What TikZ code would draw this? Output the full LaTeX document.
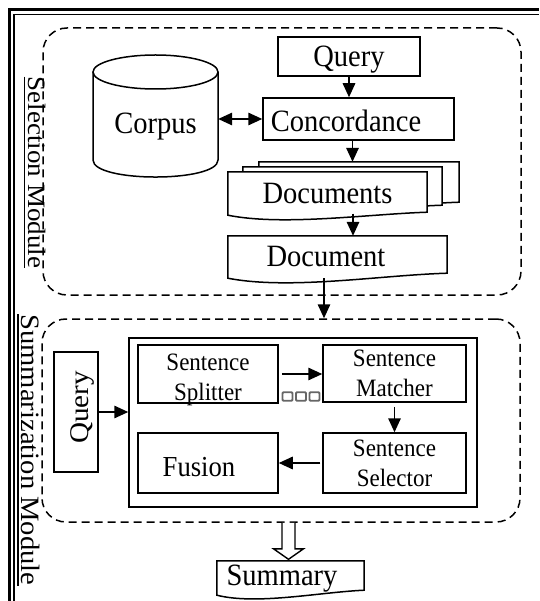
\documentclass[tikz,border=0pt]{standalone}
\usepackage{fontspec}
\setmainfont{Liberation Serif}[FakeStretch=0.92]
\newfontfamily\rotfont{Liberation Serif}[FakeStretch=1.08]
\usetikzlibrary{arrows.meta,calc,backgrounds}
\newcommand\lowtxt[2]{\raisebox{-#1}[\height][\depth]{#2}}
\begin{document}
\begin{tikzpicture}[x=1pt,y=-1pt,
  box/.style={draw, line width=1.5pt, inner sep=0pt, fill=white},
  inv/.style={inner sep=0pt},
  modbox/.style={draw, line width=1.5pt, dash pattern=on 8pt off 5pt, rounded corners=24pt, inner sep=0pt},
  arr/.style={line width=1.5pt, -{Triangle[length=14pt,width=12.5pt]}},
  darr/.style={line width=1.5pt, {Triangle[length=14pt,width=12.5pt]}-{Triangle[length=14pt,width=12.5pt]}},
  docline/.style={draw, line width=1.5pt, fill=white},
  big/.style={font=\fontsize{31}{33}\selectfont},
  mid/.style={font=\fontsize{25}{30}\selectfont, align=center},
  fus/.style={font=\fontsize{29}{31}\selectfont},
  lab/.style={font=\rotfont\fontsize{25}{28}\selectfont, rotate=-90, inner sep=0pt},
  uline/.style={line width=1.1pt},
  sq/.style={draw=black!60, line width=1.8pt, rounded corners=1pt, minimum width=10pt, minimum height=8.5pt, inner sep=0pt}
]
\useasboundingbox (0,0) rectangle (539,601);

% double frame
\draw[line width=3pt] (9,601) -- (9,10) -- (539,10);
\draw[line width=1.5pt] (14,601) -- (14,14.5) -- (539,14.5);

% module boxes
\node[modbox, minimum width=478pt, minimum height=267pt] (sel) at (282,161.5) {};
\node[modbox, minimum width=478pt, minimum height=203pt] (summ) at (281,420.5) {};

\node[lab] (sellab) at (37,172.5) {Selection Module};
\draw[uline] ([xshift=-3.5pt]sellab.south west) -- ([xshift=-3.5pt]sellab.south east);
\node[lab, font=\rotfont\fontsize{26.5}{28}\selectfont] (summlab) at (31,450) {Summarization Module};
\draw[uline] ([xshift=-3.5pt]summlab.south west) -- ([xshift=-3.5pt]summlab.south east);

% corpus cylinder
\draw[line width=1.5pt] (93,72) -- (93,160) .. controls (93,182.7) and (218,182.7) .. (218,160) -- (218,72);
\draw[line width=1.5pt] (155.5,72) ellipse [x radius=62.5pt, y radius=17pt];
\node[inv, big, minimum width=125pt, minimum height=80pt] (corpus) at (155.5,119) {\lowtxt{8pt}{Corpus}};

% top chain
\node[box, big, minimum width=142pt, minimum height=39pt] (query) at (349,56.5) {\lowtxt{3pt}{Query}};
\node[box, big, minimum width=191pt, minimum height=42pt] (conc) at (358.5,119) {\hspace*{-25pt}\lowtxt{2pt}{Concordance}};

\node[inv, minimum width=200pt, minimum height=40pt] (docs3) at (359,182) {};
\node[inv, minimum width=199pt, minimum height=38pt] (docs2) at (342.5,186) {};
\node[inv, big, minimum width=199pt, minimum height=40pt] (docs) at (327.5,192) {\lowtxt{2pt}{Documents}};
\node[inv, big, minimum width=219pt, minimum height=37pt] (doc) at (337.5,254.5) {\hspace*{-23pt}\lowtxt{2pt}{Document}};

\begin{scope}[on background layer]
\draw[docline] ([yshift=-3pt]docs3.south west) -- (docs3.north west) -- (docs3.north east) -- (docs3.south east)
  .. controls +(-60,2) and +(55,11) .. ([yshift=-3pt]docs3.south west) -- cycle;
\draw[docline] ([yshift=-3pt]docs2.south west) -- (docs2.north west) -- (docs2.north east) -- (docs2.south east)
  .. controls +(-60,2) and +(55,11) .. ([yshift=-3pt]docs2.south west) -- cycle;
\draw[docline] ([yshift=-3pt]docs.south west) -- (docs.north west) -- (docs.north east) -- (docs.south east)
  .. controls +(-60,2) and +(55,11) .. ([yshift=-3pt]docs.south west) -- cycle;
\draw[docline] ([yshift=-5pt]doc.south west) -- (doc.north west) -- (doc.north east) -- (doc.south east)
  .. controls +(-67,2) and +(62,12) .. ([yshift=-5pt]doc.south west) -- cycle;
\end{scope}

\draw[darr] (corpus) -- (conc);
\draw[arr] (query.south) -- (query.south |- conc.north);
\draw[arr] ([xshift=-6pt]conc.south) -- ([xshift=-6pt]conc.south |- docs3.north);
\coordinate (docsout) at ([xshift=25.5pt,yshift=-1.5pt]docs.south);
\draw[arr] (docsout) -- (docsout |- doc.north);
\coordinate (docout) at ([xshift=-13.5pt,yshift=-5pt]doc.south);
\draw[arr] (docout) -- (docout |- summ.north);

% summarization module
\node[box, minimum width=120pt, minimum height=44pt, rotate=90, font=\rotfont\fontsize{27}{30}\selectfont] (qleft) at (76,412) {\hspace*{9pt}\lowtxt{6pt}{Query}};
\node[box, minimum width=348pt, minimum height=169pt] (inner) at (303,422.5) {};
\node[box, minimum width=140pt, minimum height=58pt, label={[mid, yshift=-6pt]center:Sentence\\Splitter}] (split) at (208,374) {};
\node[box, mid, minimum width=143pt, minimum height=57pt] (match) at (394.5,373.5) {Sentence\\Matcher};
\node[box, mid, minimum width=143pt, minimum height=60pt] (select) at (394.5,463) {Sentence\\Selector};
\node[box, fus, minimum width=140pt, minimum height=60pt] (fusion) at (208,463) {\hspace*{-18pt}\lowtxt{4pt}{Fusion}};

\node[sq] (sq1) at (287.5,396.5) {};
\node[sq] (sq2) at (301,396.5) {};
\node[sq] (sq3) at (314.5,396.5) {};

\draw[arr] (qleft.south) -- (qleft.south -| inner.west);
\draw[arr, shorten <=3pt] (split.east) -- (split.east -| match.west);
\draw[arr, shorten <=4pt] (match.south) -- (select.north);
\draw[arr, shorten <=2pt] (select.west) -- (fusion.east);

% summary
\node[inv, big, minimum width=147pt, minimum height=29pt] (summary) at (290.5,575.5) {\hspace*{-17pt}\lowtxt{3pt}{Summary}};
\begin{scope}[on background layer]
\draw[docline] ([yshift=-5pt]summary.south west) -- (summary.north west) -- (summary.north east) -- (summary.south east)
  .. controls +(-45,2) and +(40,10) .. ([yshift=-5pt]summary.south west) -- cycle;
\end{scope}
\coordinate (ha) at ([xshift=7.5pt]summ.south);
\coordinate (hb) at (ha |- summary.north);
\draw[line width=1.4pt, fill=white] ($(ha)+(-6.5,0)$) -- ($(hb)+(-6.5,-12)$) -- ($(hb)+(-15,-12)$) -- ($(hb)+(0,-1.5)$)
  -- ($(hb)+(15,-12)$) -- ($(hb)+(6.5,-12)$) -- ($(ha)+(6.5,0)$);
\end{tikzpicture}
\end{document}
